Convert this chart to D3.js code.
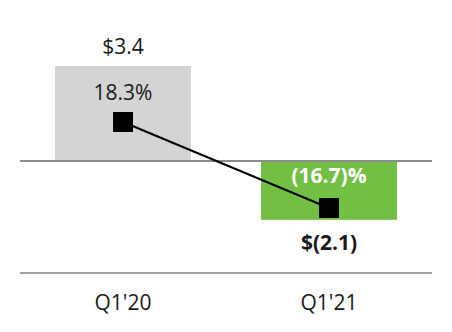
<!DOCTYPE html>
<html>
<head>
<meta charset="utf-8">
<script src="https://cdn.jsdelivr.net/npm/d3@7"></script>
<style>
  html, body { margin: 0; padding: 0; background: #fff; }
  text { font-family: "Open Sans", sans-serif; }
</style>
</head>
<body>
<div id="chart"></div>
<script>
// Quarterly values
const quarters = ["Q1'20", "Q1'21"];
const amounts = [3.4, -2.1];
const amountLabels = ["$3.4", "$(2.1)"];
const margins = [18.3, -16.7];
const marginLabels = ["18.3%", "(16.7)%"];
const barColors = ["#d4d4d4", "#72bf44"];

const width = 452, height = 332;

const svg = d3.select('#chart')
    .append('svg')
    .attr('width', width)
    .attr('height', height);

// Scales
const x = d3.scaleBand()
    .domain(quarters)
    .range([20, 432])
    .paddingInner(0.34)
    .paddingOuter(0.17);

const y = d3.scaleLinear()
    .domain([-2.1, 3.4])
    .range([219.8, 66]);

const yPct = d3.scaleLinear()
    .domain([-16.7, 18.3])
    .range([208, 122]);

// Bars
svg.selectAll('.bar')
    .data(amounts)
    .enter()
    .append('rect')
    .attr('class', 'bar')
    .attr('x', (d, i) => x(quarters[i]))
    .attr('width', x.bandwidth())
    .attr('y', d => y(Math.max(0, d)))
    .attr('height', d => Math.abs(y(d) - y(0)))
    .attr('fill', (d, i) => barColors[i]);

// Zero line and baseline
svg.append('line')
    .attr('x1', 20).attr('x2', 432)
    .attr('y1', y(0)).attr('y2', y(0))
    .attr('stroke', '#8c8c8c')
    .attr('stroke-width', 2);

svg.append('line')
    .attr('x1', 20).attr('x2', 432)
    .attr('y1', 273).attr('y2', 273)
    .attr('stroke', '#a0a0a0')
    .attr('stroke-width', 2);

// Margin line
const cx = (d, i) => x(quarters[i]) + x.bandwidth() / 2;
svg.append('path')
    .datum(margins)
    .attr('d', d3.line().x(cx).y(d => yPct(d)))
    .attr('fill', 'none')
    .attr('stroke', '#000')
    .attr('stroke-width', 2);

svg.selectAll('.marker')
    .data(margins)
    .enter()
    .append('rect')
    .attr('class', 'marker')
    .attr('x', (d, i) => cx(d, i) - 10)
    .attr('y', d => yPct(d) - 10)
    .attr('width', 20)
    .attr('height', 20)
    .attr('fill', '#000');

// Amount labels
svg.selectAll('.amount')
    .data(amounts)
    .enter()
    .append('text')
    .attr('class', 'amount')
    .attr('x', cx)
    .attr('y', d => d >= 0 ? y(d) - 12 : y(d) + 30)
    .attr('text-anchor', 'middle')
    .attr('font-size', 21)
    .attr('font-weight', d => d >= 0 ? 'normal' : 'bold')
    .attr('fill', '#1a1a1a')
    .text((d, i) => amountLabels[i]);

// Margin labels
svg.selectAll('.margin')
    .data(margins)
    .enter()
    .append('text')
    .attr('class', 'margin')
    .attr('x', cx)
    .attr('y', d => d >= 0 ? yPct(d) - 22 : yPct(d) - 25)
    .attr('text-anchor', 'middle')
    .attr('font-size', 21)
    .attr('font-weight', d => d >= 0 ? 'normal' : 'bold')
    .attr('fill', d => d >= 0 ? '#1a1a1a' : '#fff')
    .text((d, i) => marginLabels[i]);

// Category labels
svg.selectAll('.cat')
    .data(quarters)
    .enter()
    .append('text')
    .attr('class', 'cat')
    .attr('x', d => x(d) + x.bandwidth() / 2)
    .attr('y', 310)
    .attr('text-anchor', 'middle')
    .attr('font-size', 21)
    .attr('fill', '#1a1a1a')
    .text(d => d);
</script>
</body>
</html>
